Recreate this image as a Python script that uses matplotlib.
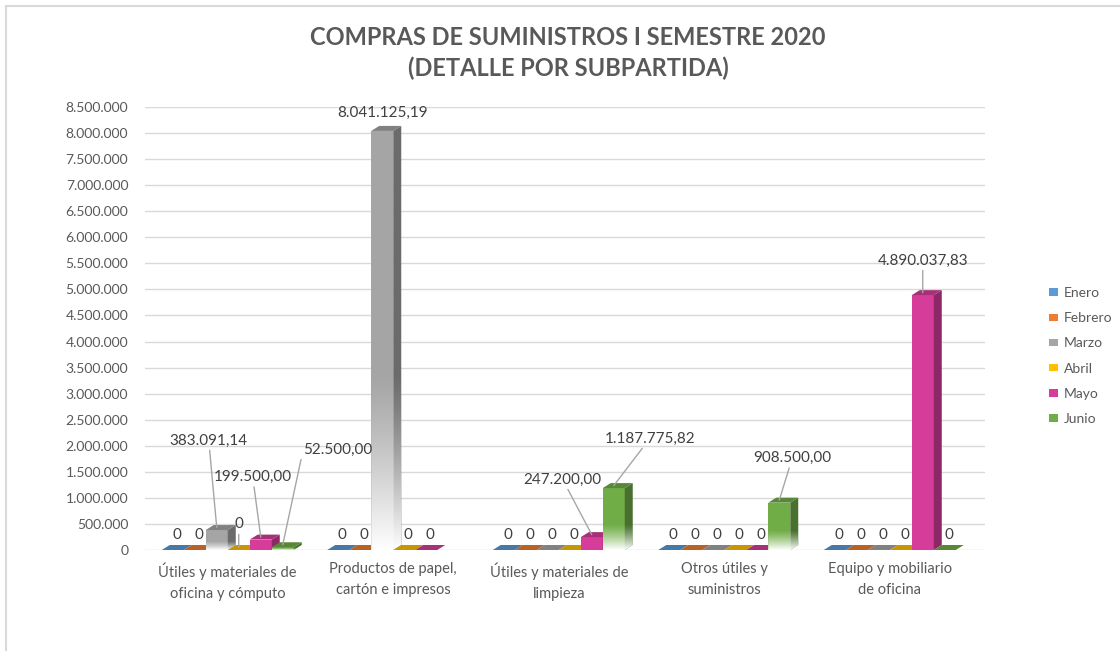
import numpy as np
import matplotlib
matplotlib.use('Agg')
import matplotlib.pyplot as plt
import matplotlib.transforms as mtransforms
from matplotlib.patches import Polygon, Patch
from matplotlib.path import Path
from matplotlib.lines import Line2D

# datos: compras por subpartida y mes (colones)
categorias = ['Útiles y materiales de\noficina y cómputo',
              'Productos de papel,\ncartón e impresos',
              'Útiles y materiales de\nlimpieza',
              'Otros útiles y\nsuministros',
              'Equipo y mobiliario\nde oficina']
meses = ['Enero', 'Febrero', 'Marzo', 'Abril', 'Mayo', 'Junio']
enero = [0, 0, 0, 0, 0]
febrero = [0, 0, 0, 0, 0]
marzo = [383091.14, 8041125.19, 0, 0, 0]
abril = [0, 0, 0, 0, 0]
mayo = [199500.00, 0, 247200.00, 0, 4890037.83]
junio = [52500.00, np.nan, 1187775.82, 908500.00, 0]
series = [enero, febrero, marzo, abril, mayo, junio]

colores = ['#5B9BD5', '#ED7D31', '#A5A5A5', '#FFC000', '#D63D9B', '#70AD47']
con_degradado = [False, False, True, False, False, True]
y_ticks = np.arange(0, 8500001, 500000)

# posiciones de etiquetas desplazadas (pixeles respecto a la cara superior)
desplazamientos = {
    (2, 0): (-8, 87), (4, 0): (-8, 60), (3, 0): (0, 23), (5, 0): (55, 95),
    (2, 1): (0, 16),
    (4, 2): (-29, 55), (5, 2): (36, 47),
    (5, 3): (13, 42),
    (4, 4): (0, 32),
}

W, H = 1120, 651
fig = plt.figure(figsize=(W / 100, H / 100), dpi=100)
plt.rcParams['font.family'] = ['Lato', 'DejaVu Sans']
texto = '#595959'

ax_l, ax_r, ax_b, ax_t = 145, 985, 550, 107
paso = 165.5  # pixeles por categoria
x_max = (ax_r - ax_l) / paso - 0.5
ax = fig.add_axes([ax_l / W, 1 - ax_b / H, (ax_r - ax_l) / W, (ax_b - ax_t) / H])
ax.set_xlim(-0.5, x_max)
ax.set_ylim(0, 8500000)

# profundidad 3D en unidades de datos
px_x = 1.0 / paso
px_y = 8500000 / (ax_b - ax_t)
dx, dy = 8 * px_x, 5 * px_y

n = len(series)
w = 22 * px_x
grupo = n * w


def oscurecer(c, f):
    r, g, b = matplotlib.colors.to_rgb(c)
    return (r * f, g * f, b * f)


def fmt(v):
    s = f'{v:,.2f}'
    return s.replace(',', 'X').replace('.', ',').replace('X', '.')


z = 3
for ci in range(len(categorias)):
    for si, vals in enumerate(series):
        v = vals[ci]
        if np.isnan(v):
            continue
        x0 = ci - grupo / 2 + si * w
        col = colores[si]
        top = [(x0, v), (x0 + w, v), (x0 + w + dx, v + dy), (x0 + dx, v + dy)]
        if v > 0:
            ax.add_patch(Polygon([(x0, 0), (x0 + w, 0), (x0 + w, v), (x0, v)],
                                 closed=True, fc=col, ec='none', zorder=z))
            ax.add_patch(Polygon([(x0 + w, 0), (x0 + w + dx, dy), (x0 + w + dx, v + dy), (x0 + w, v)],
                                 closed=True, fc=oscurecer(col, 0.65), ec='none', zorder=z))
        ax.add_patch(Polygon(top, closed=True, fc=oscurecer(col, 0.78), ec='none', zorder=z))
        if v > 0 and con_degradado[si]:
            alto = 0.42 * v
            a = np.linspace(1, 0, 100) ** 1.2
            img = np.ones((100, 1, 4))
            img[:, 0, 3] = a
            im = ax.imshow(img, extent=[x0, x0 + w + dx, 0, alto], origin='lower',
                           aspect='auto', zorder=z + 0.5, interpolation='bilinear')
            contorno = Path([(x0, 0), (x0 + w, 0), (x0 + w + dx, dy), (x0 + w + dx, v + dy),
                             (x0 + w, v), (x0, v), (x0, 0)])
            im.set_clip_path(contorno, ax.transData)
        z += 1

        # etiquetas de datos
        cx = x0 + w / 2 + dx / 2
        if (si, ci) in desplazamientos:
            ox, oy = desplazamientos[(si, ci)]
            flecha = None
            if not (ox == 0 and oy < 20):
                flecha = dict(arrowstyle='-', color='#A6A6A6', lw=1, shrinkA=0, shrinkB=0,
                              relpos=(0, 0.5) if ox > 45 else (0.5, 0.5))
            etiqueta = fmt(v) if v > 0 else '0'
            ax.annotate(etiqueta, xy=(x0 + w / 2, v + dy / 2), xytext=(ox, oy),
                        textcoords='offset pixels', ha='center', va='center',
                        fontsize=11, color='#404040', arrowprops=flecha, zorder=50)
        else:
            ax.annotate('0', xy=(cx, v), xytext=(0, 15), textcoords='offset pixels',
                        ha='center', va='center', fontsize=11, color='#404040', zorder=50)

ax.set_xlim(-0.5, x_max)
ax.set_ylim(0, 8500000)
ax.set_yticks(y_ticks)
ax.set_yticklabels([f'{t:,.0f}'.replace(',', '.') for t in y_ticks], color=texto, fontsize=10)
ax.set_xticks(range(len(categorias)))
ax.set_xticklabels(categorias, color=texto, fontsize=10.5, linespacing=1.6)
corrimiento = mtransforms.ScaledTranslation(-4 / 100, 0, fig.dpi_scale_trans)
for lab in ax.get_xticklabels():
    lab.set_transform(lab.get_transform() + corrimiento)
ax.tick_params(axis='both', length=0)
ax.tick_params(axis='y', pad=12)
ax.tick_params(axis='x', pad=9)
ax.grid(axis='y', color='#D9D9D9', lw=1, zorder=0)
ax.set_axisbelow(True)
for s in ax.spines.values():
    s.set_visible(False)

fig.text(568 / W, 1 - 53 / H, 'COMPRAS DE SUMINISTROS I SEMESTRE 2020\n(DETALLE POR SUBPARTIDA)',
         ha='center', va='center', fontsize=17, fontweight='bold', color=texto, linespacing=1.4)

manejadores = [Patch(fc=c, ec='none') for c in colores]
fig.legend(manejadores, meses, loc='center left', bbox_to_anchor=(1036 / W, 1 - 356 / H),
           frameon=False, fontsize=10, labelcolor=texto, handlelength=0.7, handleheight=0.45,
           handletextpad=0.4, labelspacing=0.95)

# borde del area del grafico
fig.add_artist(Line2D([5.5 / W, 5.5 / W], [0, 1 - 5.5 / H], color='#D9D9D9', lw=1.5))
fig.add_artist(Line2D([5.5 / W, 1], [1 - 5.5 / H, 1 - 5.5 / H], color='#D9D9D9', lw=1.5))

fig.savefig('out.png', dpi=100, facecolor='white')
